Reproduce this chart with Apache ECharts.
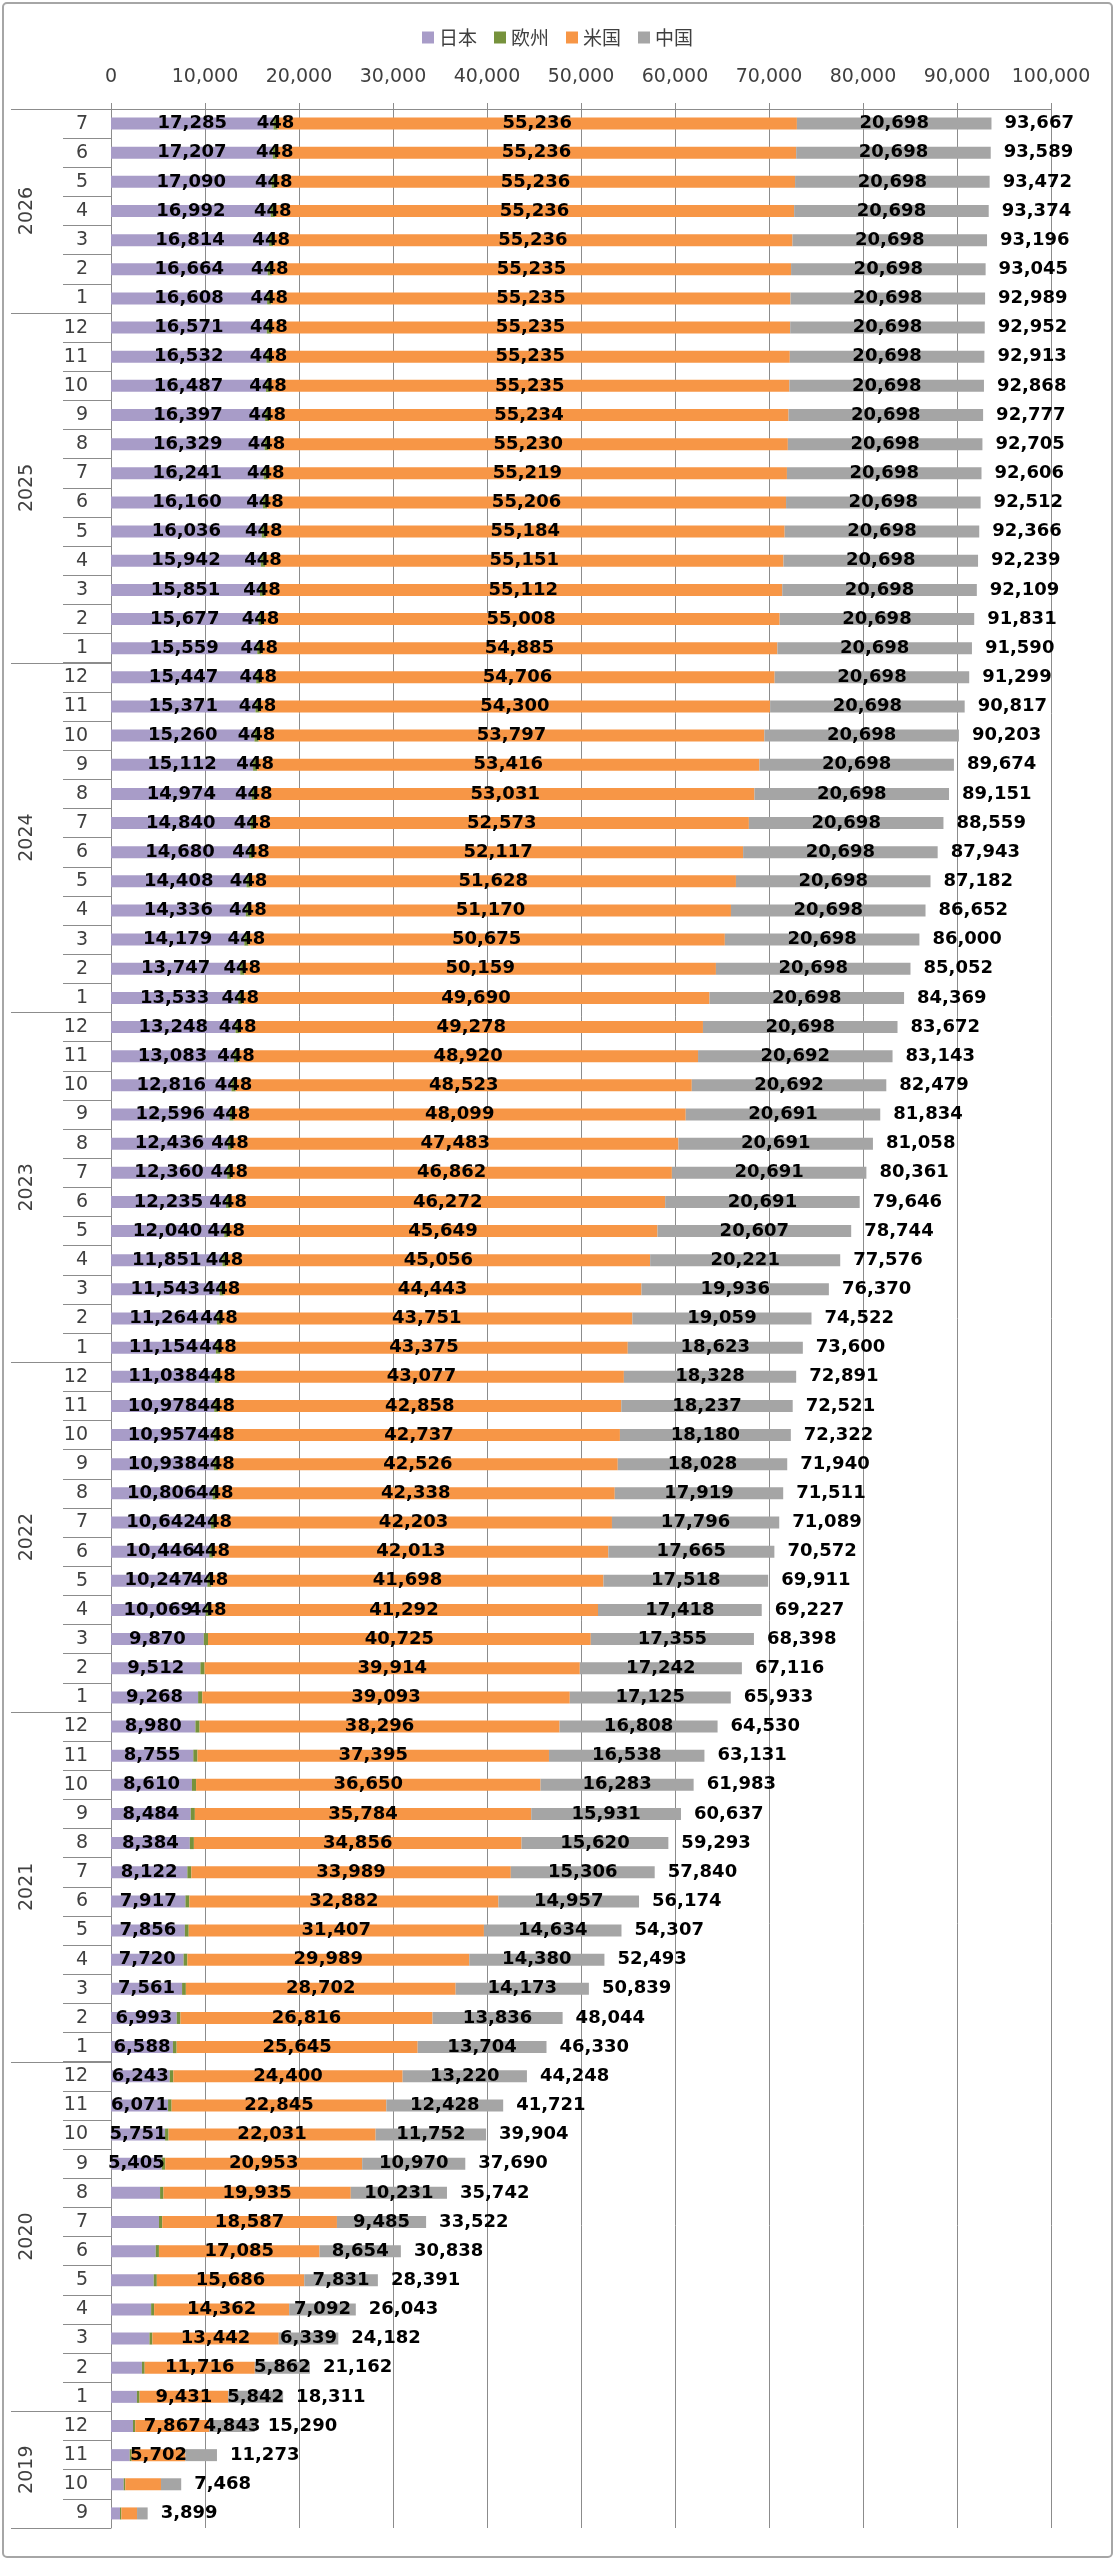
<!DOCTYPE html>
<html>
<head>
<meta charset="utf-8">
<title>日本・欧州・米国・中国</title>
<script src="https://cdn.jsdelivr.net/npm/echarts@6.0.0/dist/echarts.min.js"></script>
<style>
    html, body { margin: 0; padding: 0; background: #fff; }
    #main_echarts { width: 1115px; height: 2560px; }
</style>
</head>
<body>
<div id="main_echarts"></div>
<script>
// rows run top to bottom: 2026/7 ... 2019/9
var years = ['2026', '2025', '2024', '2023', '2022', '2021', '2020', '2019'];
var yearRows = [7, 12, 12, 12, 12, 12, 12, 4];
var months = ['7','6','5','4','3','2','1',
    '12','11','10','9','8','7','6','5','4','3','2','1',
    '12','11','10','9','8','7','6','5','4','3','2','1',
    '12','11','10','9','8','7','6','5','4','3','2','1',
    '12','11','10','9','8','7','6','5','4','3','2','1',
    '12','11','10','9','8','7','6','5','4','3','2','1',
    '12','11','10','9','8','7','6','5','4','3','2','1',
    '12','11','10','9'];

var jp = [17285, 17207, 17090, 16992, 16814, 16664, 16608,
    16571, 16532, 16487, 16397, 16329, 16241, 16160, 16036, 15942, 15851, 15677, 15559,
    15447, 15371, 15260, 15112, 14974, 14840, 14680, 14408, 14336, 14179, 13747, 13533,
    13248, 13083, 12816, 12596, 12436, 12360, 12235, 12040, 11851, 11543, 11264, 11154,
    11038, 10978, 10957, 10938, 10806, 10642, 10446, 10247, 10069, 9870, 9512, 9268,
    8980, 8755, 8610, 8484, 8384, 8122, 7917, 7856, 7720, 7561, 6993, 6588,
    6243, 6071, 5751, 5405, 5221, 5102, 4759, 4544, 4269, 4091, 3289, 2758,
    2340, 1990, 1350, 960];
var eu = [448, 448, 448, 448, 448, 448, 448,
    448, 448, 448, 448, 448, 448, 448, 448, 448, 448, 448, 448,
    448, 448, 448, 448, 448, 448, 448, 448, 448, 448, 448, 448,
    448, 448, 448, 448, 448, 448, 448, 448, 448, 448, 448, 448,
    448, 448, 448, 448, 448, 448, 448, 448, 448, 448, 448, 447,
    446, 443, 440, 438, 433, 423, 418, 410, 404, 403, 399, 393,
    385, 377, 370, 362, 355, 348, 340, 330, 320, 310, 295, 280,
    240, 211, 170, 140];
var us = [55236, 55236, 55236, 55236, 55236, 55235, 55235,
    55235, 55235, 55235, 55234, 55230, 55219, 55206, 55184, 55151, 55112, 55008, 54885,
    54706, 54300, 53797, 53416, 53031, 52573, 52117, 51628, 51170, 50675, 50159, 49690,
    49278, 48920, 48523, 48099, 47483, 46862, 46272, 45649, 45056, 44443, 43751, 43375,
    43077, 42858, 42737, 42526, 42338, 42203, 42013, 41698, 41292, 40725, 39914, 39093,
    38296, 37395, 36650, 35784, 34856, 33989, 32882, 31407, 29989, 28702, 26816, 25645,
    24400, 22845, 22031, 20953, 19935, 18587, 17085, 15686, 14362, 13442, 11716, 9431,
    7867, 5702, 3800, 1670];
var cn = [20698, 20698, 20698, 20698, 20698, 20698, 20698,
    20698, 20698, 20698, 20698, 20698, 20698, 20698, 20698, 20698, 20698, 20698, 20698,
    20698, 20698, 20698, 20698, 20698, 20698, 20698, 20698, 20698, 20698, 20698, 20698,
    20698, 20692, 20692, 20691, 20691, 20691, 20691, 20607, 20221, 19936, 19059, 18623,
    18328, 18237, 18180, 18028, 17919, 17796, 17665, 17518, 17418, 17355, 17242, 17125,
    16808, 16538, 16283, 15931, 15620, 15306, 14957, 14634, 14380, 14173, 13836, 13704,
    13220, 12428, 11752, 10970, 10231, 9485, 8654, 7831, 7092, 6339, 5862, 5842,
    4843, 3370, 2148, 1129];
var total = [93667, 93589, 93472, 93374, 93196, 93045, 92989,
    92952, 92913, 92868, 92777, 92705, 92606, 92512, 92366, 92239, 92109, 91831, 91590,
    91299, 90817, 90203, 89674, 89151, 88559, 87943, 87182, 86652, 86000, 85052, 84369,
    83672, 83143, 82479, 81834, 81058, 80361, 79646, 78744, 77576, 76370, 74522, 73600,
    72891, 72521, 72322, 71940, 71511, 71089, 70572, 69911, 69227, 68398, 67116, 65933,
    64530, 63131, 61983, 60637, 59293, 57840, 56174, 54307, 52493, 50839, 48044, 46330,
    44248, 41721, 39904, 37690, 35742, 33522, 30838, 28391, 26043, 24182, 21162, 18311,
    15290, 11273, 7468, 3899];

// how many rows from the top carry a value label in each series
var jpLabelRows = 71;
var euLabelRows = 52;
var usLabelRows = 81;
var cnLabelRows = 80;

var tickColor = '#8c8c8c';

function fmt(v) {
    return String(v).replace(/\B(?=(\d{3})+(?!\d))/g, ',');
}

function segLabel(rows) {
    return {
        show: true,
        position: 'inside',
        color: '#000',
        fontSize: 18,
        fontWeight: 'bold',
        fontFamily: 'DejaVu Sans',
        textBorderWidth: 0,
        formatter: function (p) {
            return p.dataIndex < rows ? fmt(p.value) : '';
        }
    };
}

var main_echarts = document.getElementById('main_echarts');
var myChart = echarts.init(main_echarts, null, {renderer: 'canvas'});

var option = {
    animation: false,
    backgroundColor: '#fff',
    legend: {
        top: 23,
        left: 'center',
        icon: 'rect',
        itemWidth: 12,
        itemHeight: 12,
        itemGap: 17,
        data: ['日本', '欧州', '米国', '中国'],
        textStyle: {fontSize: 19, color: '#404040', fontFamily: 'Noto Sans CJK JP'}
    },
    grid: {left: 111, right: 64, top: 109, bottom: 32, outerBoundsMode: 'none'},
    xAxis: {
        type: 'value',
        position: 'top',
        min: 0,
        max: 100000,
        interval: 10000,
        axisLine: {show: true, lineStyle: {color: tickColor}},
        axisTick: {show: true, length: 6, lineStyle: {color: tickColor}},
        axisLabel: {fontSize: 19, color: '#404040', fontFamily: 'DejaVu Sans', margin: 22, formatter: fmt},
        splitLine: {show: true, lineStyle: {color: tickColor, width: 1}}
    },
    yAxis: {
        type: 'category',
        inverse: true,
        data: months,
        axisLine: {show: true, lineStyle: {color: tickColor}},
        axisTick: {show: true, length: 48, lineStyle: {color: tickColor}},
        axisLabel: {interval: 0, fontSize: 19, color: '#404040', fontFamily: 'DejaVu Sans', margin: 23},
        splitLine: {show: false}
    },
    series: [
        {name: '日本', type: 'bar', stack: 'all', barWidth: 12, data: jp,
            itemStyle: {color: '#A89CC8'}, label: segLabel(jpLabelRows)},
        {name: '欧州', type: 'bar', stack: 'all', barWidth: 12, data: eu,
            itemStyle: {color: '#76923C'}, label: segLabel(euLabelRows)},
        {name: '米国', type: 'bar', stack: 'all', barWidth: 12, data: us,
            itemStyle: {color: '#F79646'}, label: segLabel(usLabelRows)},
        {name: '中国', type: 'bar', stack: 'all', barWidth: 12, data: cn,
            itemStyle: {color: '#A5A5A5'}, label: segLabel(cnLabelRows)},
        // invisible bar carrying the total at the end of each stack
        {name: '合計', type: 'bar', barWidth: 12, barGap: '-100%', data: total, silent: true,
            itemStyle: {color: 'rgba(0,0,0,0)'},
            label: {
                show: true, position: 'right', distance: 13,
                color: '#000', fontSize: 18, fontWeight: 'bold', fontFamily: 'DejaVu Sans',
                formatter: function (p) { return fmt(p.value); }
            }}
    ]
};
myChart.setOption(option);

// year groups on the category axis: separator lines and rotated year names
var y0 = myChart.convertToPixel({yAxisIndex: 0}, 0);
var band = myChart.convertToPixel({yAxisIndex: 0}, 1) - y0;
var axisX = myChart.convertToPixel({xAxisIndex: 0}, 0);
var elements = [{
    type: 'rect',
    shape: {x: 3, y: 3, width: 1109, height: 2554, r: 4},
    style: {fill: 'none', stroke: '#a6a6a6', lineWidth: 2},
    z: 100
}];
var start = 0;
for (var g = 0; g < years.length; g++) {
    var n = yearRows[g];
    var topY = Math.round(myChart.convertToPixel({yAxisIndex: 0}, start) - band / 2) + 0.5;
    elements.push({
        type: 'line',
        shape: {x1: 11, y1: topY, x2: axisX, y2: topY},
        style: {stroke: tickColor, lineWidth: 1}
    });
    var midY = (myChart.convertToPixel({yAxisIndex: 0}, start) +
        myChart.convertToPixel({yAxisIndex: 0}, start + n - 1)) / 2;
    elements.push({
        type: 'text',
        x: 27,
        y: midY,
        rotation: Math.PI / 2,
        style: {
            text: years[g],
            fontSize: 19,
            fontFamily: 'DejaVu Sans',
            fill: '#404040',
            align: 'center',
            verticalAlign: 'middle'
        }
    });
    start += n;
}
var endY = Math.round(myChart.convertToPixel({yAxisIndex: 0}, start - 1) + band / 2) + 0.5;
elements.push({
    type: 'line',
    shape: {x1: 11, y1: endY, x2: axisX, y2: endY},
    style: {stroke: tickColor, lineWidth: 1}
});
myChart.setOption({graphic: {elements: elements}});
window.onresize = myChart.resize;
</script>
</body>
</html>
